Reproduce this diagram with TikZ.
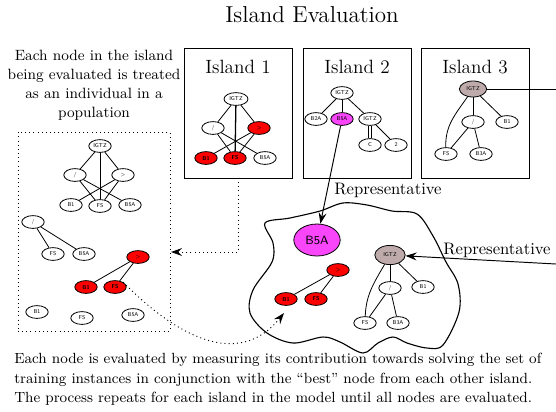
\documentclass[tikz,border=0pt]{standalone}
\usetikzlibrary{arrows.meta,shapes.geometric}
\definecolor{gcol}{RGB}{190,170,170}
\definecolor{mcol}{RGB}{250,70,250}
\begin{document}
\begin{tikzpicture}[x=0.625pt,y=-0.625pt,
  tn/.style={ellipse,draw,line width=0.5pt,minimum width=14pt,minimum height=8pt,inner sep=0pt,font=\fontsize{3.5}{4}\selectfont\sffamily},
  rn/.style={tn,fill=red,font=\fontsize{3.5}{4}\selectfont\sffamily\bfseries},
  mn/.style={tn,fill=mcol},
  gn/.style={tn,fill=gcol},
  ed/.style={line width=0.5pt},
  islbox/.style={draw,line width=0.6pt,minimum width=67.5pt,minimum height=81.25pt,inner sep=0pt,outer sep=0pt},
  arr/.style={line width=0.6pt,-{Stealth[length=7pt,width=5pt,inset=2.5pt]}},
  dotarr/.style={line width=0.6pt,dotted,-{Stealth[length=7pt,width=5pt,inset=2.5pt]}},
  ititle/.style={font=\large},
  lbl/.style={font=\fontsize{10.4}{12}\selectfont}
]
\useasboundingbox (0,0) rectangle (556,411);

% title
\node (title) at (312,15) {\fontsize{14.4}{17}\selectfont Island Evaluation};

% left explanatory text
\node (ltext) at (94,85) [align=center,font=\fontsize{9.3}{11.9}\selectfont,inner sep=0pt] {Each node in the island\\being evaluated is treated\\as an individual in a\\population};

% island boxes
\node (isl1) [islbox] at (238,113) {};
\node (isl2) [islbox] at (357,113) {};
\node (isl3) [islbox] at (475,113) {};
\node (t1) [ititle] at (238,67) {Island 1};
\node (t2) [ititle] at (357,67) {Island 2};
\node (t3) [ititle] at (475,67) {Island 3};

% island 1 tree
\node (a1) [tn,minimum width=15pt] at (236,99) {IGTZ};
\node (a2) [tn] at (213,128) {/};
\node (a3) [rn] at (259,128) {>};
\node (a4) [rn] at (206,158) {B1};
\node (a5) [rn] at (235,158) {FS};
\node (a6) [tn] at (265,158) {B5A};
\draw[ed] (a1) -- (a2);
\draw[ed] (a1) -- (a3);
\draw[line width=0.8pt] (a1) -- (a5);
\draw[ed] (a2) -- (a5);
\draw[ed] (a2) -- (a6);
\draw[ed] (a3) -- (a4);
\draw[ed] (a3) -- (a5);

% island 2 tree
\node (b1) [tn] at (342,93) {IGTZ};
\node (b2) [tn] at (316,119) {B2A};
\node (b3) [mn] at (342,119) {B5A};
\node (b4) [tn] at (370,119) {IGTZ};
\node (b5) [tn] at (370,145) {C};
\node (b6) [tn] at (396,145) {2};
\draw[ed] (b1) -- (b2);
\draw[ed] (b1) -- (b3);
\draw[ed] (b1) -- (b4);
\draw[ed,double,double distance=1.2pt] (b4) -- (b5);
\draw[ed] (b4) -- (b6);

% island 3 tree
\node (c1) [gn,minimum width=17pt,minimum height=10pt] at (473,89) {IGTZ};
\node (c2) [tn] at (473,122) {/};
\node (c3) [tn] at (507,122) {B1};
\node (c4) [tn] at (446,154) {FS};
\node (c5) [tn] at (481,154) {B3A};
\draw[ed] (c1) -- (c2);
\draw[ed] (c1) -- (c3);
\draw[ed] (c1) to[out=235,in=92] (c4);
\draw[ed] (c2) -- (c4);
\draw[ed] (c2) -- (c5);
\coordinate (r3) at (556,89);
\draw[line width=0.6pt] (c1) -- (r3);

% left dotted box
\node (lbox) [draw,dotted,line width=0.6pt,minimum width=95pt,minimum height=124.4pt,inner sep=0pt,outer sep=0pt] at (94,231.5) {};
\node (l1) [tn] at (100,146) {IGTZ};
\node (l2) [tn] at (75,175) {/};
\node (l3) [tn] at (123,175) {>};
\node (l4) [tn] at (71,205) {B1};
\node (l5) [tn] at (100,206) {FS};
\node (l6) [tn] at (130,205) {B5A};
\draw[ed] (l1) -- (l2);
\draw[ed] (l1) -- (l3);
\draw[ed] (l1) -- (l5);
\draw[ed] (l2) -- (l5);
\draw[ed] (l2) -- (l6);
\draw[ed] (l3) -- (l4);
\draw[ed] (l3) -- (l5);
\node (m1) [tn] at (33,222) {/};
\node (m2) [tn] at (53,254) {FS};
\node (m3) [tn] at (84,254) {B5A};
\draw[ed] (m1) -- (m2);
\draw[ed] (m1) -- (m3);
\node (n1) [rn] at (138,257) {>};
\node (n2) [rn] at (86,287) {B1};
\node (n3) [rn] at (115,287) {FS};
\draw[ed] (n1) -- (n2);
\draw[ed] (n1) -- (n3);
\node (o1) [tn] at (37,312) {B1};
\node (o2) [tn] at (82,318) {FS};
\node (o3) [tn] at (133,315) {B5A};

% dotted connector island 1 -> left box
\coordinate (d1) at (171,252);
\draw[dotarr] (isl1.south) |- (d1);

% island blob
\draw[line width=0.7pt] plot[smooth cycle,tension=0.55] coordinates {
 (265,223) (290,218) (320,211) (343,203) (367,205) (392,211) (417,214)
 (433,236) (446,262) (458,284) (459,312) (443,345)
 (427,348) (407,343) (393,337) (378,343) (363,353) (340,342) (323,337) (293,343)
 (267,333) (250,313) (253,290) (272,262) (273,243)};

% island contents
\node (p1) [ellipse,draw,fill=mcol,line width=0.5pt,minimum width=29pt,minimum height=20pt,inner sep=0pt,font=\fontsize{7.5}{9}\selectfont\sffamily] at (317,240) {B5A};
\node (p2) [rn] at (338,270) {>};
\node (p3) [rn] at (286,299) {B1};
\node (p4) [rn] at (316,299) {FS};
\draw[ed] (p2) -- (p3);
\draw[ed] (p2) -- (p4);
\node (q1) [gn,minimum width=19pt,minimum height=12pt] at (390,255) {IGTZ};
\node (q2) [tn] at (390,288) {/};
\node (q3) [tn] at (423,287) {B1};
\node (q4) [tn] at (365,323) {FS};
\node (q5) [tn] at (398,323) {B3A};
\draw[ed] (q1) -- (q2);
\draw[ed] (q1) -- (q3);
\draw[ed] (q1) to[out=240,in=88] (q4);
\draw[ed] (q2) -- (q4);
\draw[ed] (q2) -- (q5);

% representative arrows
\draw[arr] (b3) -- (p1);
\node (rep1) [lbl] at (388,190) {Representative};
\coordinate (r2) at (556,264);
\draw[arr] (r2) -- (q1);
\node (rep2) [lbl] at (497,250) {Representative};

% dotted curve from left box to island
\coordinate (tip) at (284,313);
\draw[dotarr] (n3.north east) .. controls (175,335) and (238,370) .. (tip);

% bottom text
\node (btext) [anchor=north west,align=left,inner sep=0pt,font=\fontsize{9.2}{12.2}\selectfont] at (14,353) {Each node is evaluated by measuring its contribution towards solving the set of\\training instances in conjunction with the ``best'' node from each other island.\\The process repeats for each island in the model until all nodes are evaluated.};
\end{tikzpicture}
\end{document}
